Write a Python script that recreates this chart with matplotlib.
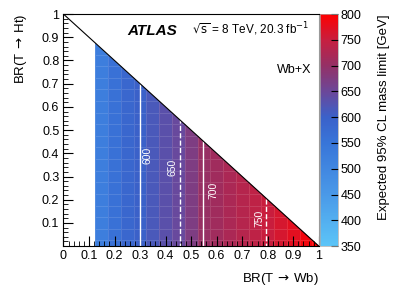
import numpy as np
import matplotlib.pyplot as plt
from matplotlib.colors import LinearSegmentedColormap
from matplotlib.patches import Polygon
from matplotlib.ticker import MultipleLocator

plt.rcParams['font.family'] = ['Liberation Sans', 'DejaVu Sans']

# BR(T -> Wb) column centres and expected mass limit (GeV) per column
br_wb = [0.15, 0.20, 0.25, 0.30, 0.35, 0.40, 0.45, 0.50, 0.55,
         0.60, 0.65, 0.70, 0.75, 0.80, 0.85, 0.90, 0.95, 1.00]
limit = [525, 560, 585, 600, 617, 633, 647, 672, 703,
         712, 722, 732, 741, 751, 762, 775, 788, 798]
# BR(T -> Ht) row centres
br_ht = [0.00, 0.05, 0.10, 0.15, 0.20, 0.25, 0.30, 0.35, 0.40, 0.45,
         0.50, 0.55, 0.60, 0.65, 0.70, 0.75, 0.80, 0.85, 0.90]
contour_levels = [600, 650, 700, 750]
contour_styles = ['solid', 'dashed', 'solid', 'dashed']
label_pos = [(0.329, 0.39), (0.427, 0.34), (0.587, 0.24), (0.767, 0.12)]
cbar_ticks = [350, 400, 450, 500, 550, 600, 650, 700, 750, 800]

x = np.array(br_wb)
y = np.array(br_ht)
z = np.tile(np.array(limit, dtype=float), (len(y), 1))

nodes = [
    (0.000, (0.36, 0.77, 0.97)),
    (0.222, (0.29, 0.60, 0.91)),
    (0.444, (0.22, 0.46, 0.85)),
    (0.556, (0.23, 0.38, 0.79)),
    (0.667, (0.42, 0.28, 0.60)),
    (0.778, (0.58, 0.19, 0.40)),
    (0.889, (0.78, 0.12, 0.25)),
    (1.000, (1.00, 0.00, 0.00)),
]
cmap = LinearSegmentedColormap.from_list('atlas', nodes)

fig = plt.figure(figsize=(3.99, 2.93), dpi=100)
ax = fig.add_axes([0.159, 0.160, 0.640, 0.792])
cax = fig.add_axes([0.803, 0.160, 0.044, 0.792])

xe = np.append(x - 0.025, x[-1] + 0.025)
ye = np.append(y - 0.025, y[-1] + 0.025)
tri = Polygon([(0, 0), (1, 0), (0, 1)], closed=True, transform=ax.transData)

mesh = ax.pcolormesh(xe, ye, z, cmap=cmap, vmin=350, vmax=800,
                     edgecolors=(1, 1, 1, 0.12), linewidth=0.5)
mesh.set_clip_path(tri)

cs = ax.contour(x, y, z, levels=contour_levels, colors='white',
                linestyles=contour_styles, linewidths=1.0)
cs.set_clip_path(tri)
for lev, (lx, ly) in zip(contour_levels, label_pos):
    ax.text(lx, ly, str(lev), color='white', fontsize=7.5, rotation=90,
            ha='center', va='center')

ax.plot([0, 1], [1, 0], color='black', lw=0.8)

ax.set_xlim(0, 1)
ax.set_ylim(0, 1)
ax.xaxis.set_minor_locator(MultipleLocator(0.02))
ax.yaxis.set_minor_locator(MultipleLocator(0.02))
ax.set_xticks(np.arange(0, 1.01, 0.1))
ax.set_xticklabels(['0', '0.1', '0.2', '0.3', '0.4', '0.5', '0.6', '0.7', '0.8', '0.9', '1'])
ax.set_yticks(np.arange(0.1, 1.01, 0.1))
ax.set_yticklabels(['0.1', '0.2', '0.3', '0.4', '0.5', '0.6', '0.7', '0.8', '0.9', '1'])
ax.tick_params(which='major', direction='in', length=7, width=0.8, labelsize=9, pad=3)
ax.tick_params(which='minor', direction='in', length=3.5, width=0.6)
ax.spines['right'].set_color('#999999')

ax.set_xlabel('BR(T$\\,\\rightarrow\\,$Wb)', fontsize=9.5, loc='right', labelpad=6)
ax.set_ylabel('BR(T$\\,\\rightarrow\\,$Ht)', fontsize=9.5, loc='top', labelpad=9)

ax.text(0.25, 0.91, 'ATLAS', fontsize=11, fontweight='bold', style='italic',
        transform=ax.transAxes)
ax.text(0.505, 0.915, r'$\sqrt{\rm s}$ = 8 TeV, 20.3 fb$^{-1}$', fontsize=8.5,
        transform=ax.transAxes)
ax.text(0.97, 0.745, 'Wb+X', fontsize=9, ha='right', transform=ax.transAxes)

cb = fig.colorbar(mesh, cax=cax, ticks=cbar_ticks)
cb.outline.set_linewidth(0.5)
cb.outline.set_edgecolor('#aaaaaa')
cax.tick_params(direction='in', length=5, width=0.8, labelsize=9, pad=2,
                colors='black')
cb.set_label('Expected 95% CL mass limit [GeV]', fontsize=9.5, loc='top', labelpad=12)

fig.savefig('out.png', dpi=100)
